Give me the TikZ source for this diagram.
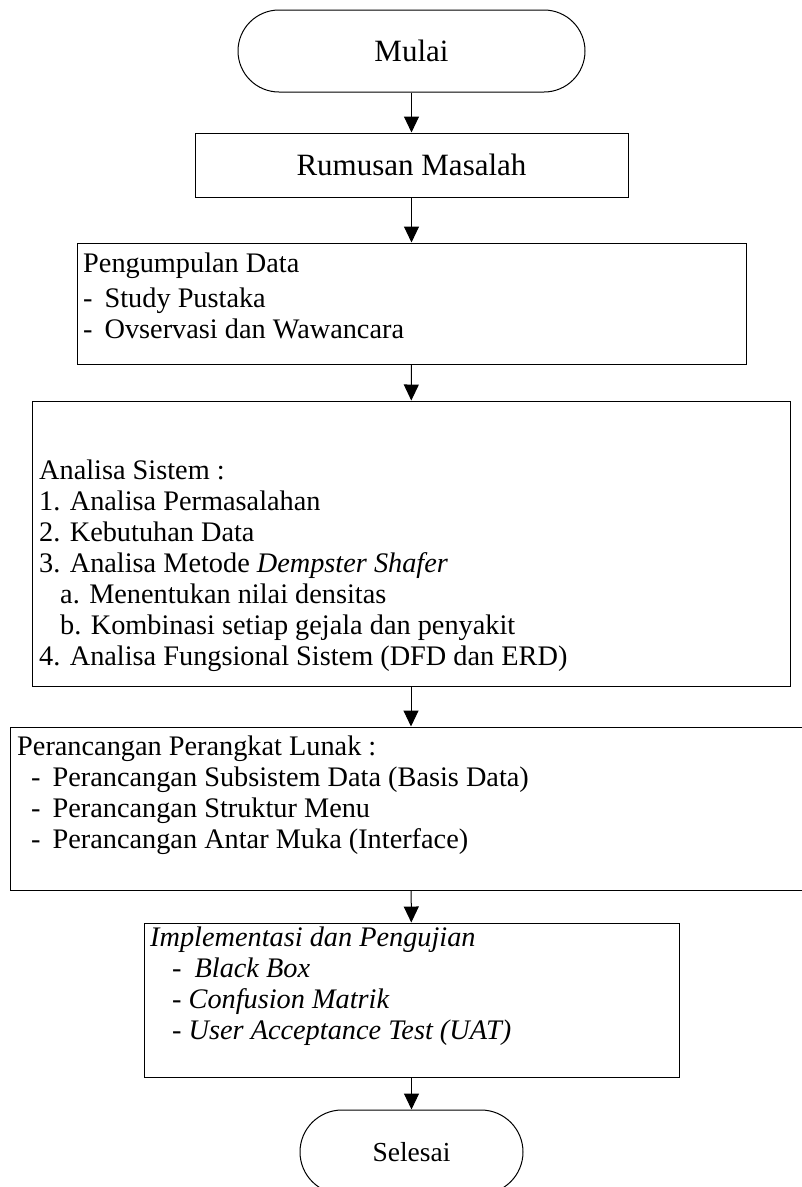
\documentclass[tikz,border=0pt]{standalone}
\usepackage{fontspec}
\setmainfont{Liberation Serif}
\usetikzlibrary{positioning, arrows.meta}

\tikzset{
  kotak/.style={draw, line width=1pt, inner sep=0pt},
  terminal/.style={kotak, rounded corners=41pt},
  teks/.style={anchor=north west, inner sep=0pt, align=left, font=\fontsize{28.3}{31}\selectfont},
  panah/.style={-{Triangle[length=16pt, width=15pt]}, line width=1pt}
}

\begin{document}
\begin{tikzpicture}[x=1pt, y=-1pt]
\useasboundingbox (0,0) rectangle (802,1187);

% bentuk-bentuk alur
\node[terminal, minimum width=347, minimum height=82, font=\fontsize{31}{31}\selectfont] (mulai) at (411.5,51) {Mulai};
\node[kotak, minimum width=433, minimum height=64, font=\fontsize{31}{31}\selectfont] (rumusan) at (411.5,165) {Rumusan Masalah};
\node[kotak, minimum width=669, minimum height=121] (kumpul) at (411.5,303.5) {};
\node[kotak, minimum width=758, minimum height=285] (analisa) at (411,543.5) {};
\node[kotak, minimum width=802, minimum height=163] (rancang) at (411,808.5) {};
\node[kotak, minimum width=535, minimum height=154] (implement) at (411.5,1000) {};
\node[terminal, minimum width=223, minimum height=84, rounded corners=42pt, font=\fontsize{27.5}{27.5}\selectfont] (selesai) at (411.5,1152) {Selesai};

% isi kotak
\node[teks] (kumpulisi) at (83,253) {Pengumpulan Data\\[4pt]
-\hspace*{12pt}Study Pustaka\\
-\hspace*{12pt}Ovservasi dan Wawancara};
\node[teks] (analisaisi) at (39,460) {Analisa Sistem :\\
1. Analisa Permasalahan\\
2. Kebutuhan Data\\
3. Analisa Metode \textit{Dempster Shafer}\\
\hspace*{21pt}a. Menentukan nilai densitas\\
\hspace*{21pt}b. Kombinasi setiap gejala dan penyakit\\
4. Analisa Fungsional Sistem (DFD dan ERD)};
\node[teks] (rancangisi) at (17,736) {Perancangan Perangkat Lunak :\\
\hspace*{14pt}-\hspace*{12pt}Perancangan Subsistem Data (Basis Data)\\
\hspace*{14pt}-\hspace*{12pt}Perancangan Struktur Menu\\
\hspace*{14pt}-\hspace*{12pt}Perancangan Antar Muka (Interface)};
\node[teks, font=\fontsize{28.3}{31}\selectfont\itshape] (implementisi) at (150,927) {Implementasi dan Pengujian\\
\hspace*{22pt}-\hspace*{13pt}Black Box\\
\hspace*{22pt}- Confusion Matrik\\
\hspace*{22pt}- User Acceptance Test (UAT)};

% panah
\draw[panah] (mulai) -- (rumusan);
\draw[panah] (rumusan) -- (kumpul);
\draw[panah] (kumpul) -- (analisa);
\draw[panah] (analisa) -- (rancang);
\draw[panah] (rancang) -- (implement);
\draw[panah] (implement) -- (selesai);
\end{tikzpicture}
\end{document}
